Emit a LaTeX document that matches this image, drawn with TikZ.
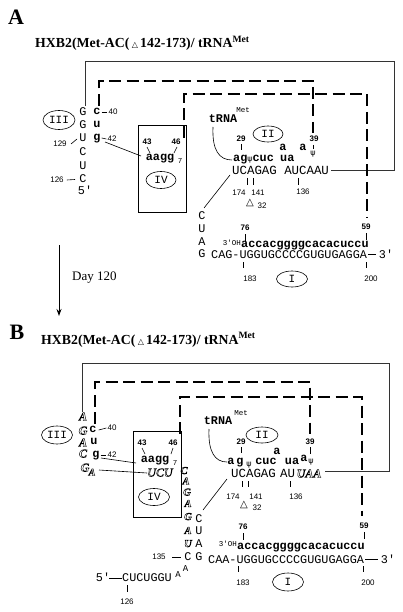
\documentclass[tikz,border=0pt]{standalone}
\usepackage{fontspec}
\setmainfont{Liberation Serif}
\newfontfamily\mono{Liberation Mono}
\newfontfamily\lsans{Liberation Sans}
\newfontfamily\dvs{DejaVu Sans}
\usetikzlibrary{shapes.geometric,arrows.meta,calc}
\newcommand{\hol}[1]{\special{pdf:literal direct 1 Tr 0.45 w}#1\special{pdf:literal direct 0 Tr}}
\newcommand{\tri}{{\dvs\mdseries\fontsize{8}{8}\selectfont △}}
\newcommand{\psis}{{\dvs\mdseries\fontsize{8}{8}\selectfont ψ}}
\begin{document}
\begin{tikzpicture}[x=1pt,y=-1pt,
  nt/.style={font=\mono\fontsize{11.8}{12}\selectfont, inner sep=0pt, text height=7pt, text depth=0pt},
  wnt/.style={font=\mono\fontsize{12.4}{12}\selectfont, inner sep=0pt, text height=7pt, text depth=0pt},
  bnt/.style={font=\mono\bfseries\fontsize{11.8}{12}\selectfont, inner sep=0pt, text height=5.5pt, text depth=0pt},
  mut/.style={font=\rmfamily\bfseries\itshape\fontsize{12}{12}\selectfont, text=black, inner sep=0pt, text height=7pt, text depth=0pt},
  mutc/.style={mut, font=\rmfamily\bfseries\itshape\fontsize{10.5}{10.5}\selectfont, text height=6pt},
  lab/.style={font=\lsans\fontsize{8}{8}\selectfont, inner sep=0pt, text height=5.8pt, text depth=0pt},
  blab/.style={font=\lsans\bfseries\fontsize{8}{8}\selectfont, inner sep=0pt, text height=5.8pt, text depth=0pt},
  smt/.style={font=\mono\fontsize{7.5}{7.5}\selectfont, inner sep=0pt},
  trisym/.style={font=\dvs\bfseries\fontsize{10}{10}\selectfont, inner sep=0pt},
  rom/.style={ellipse, draw, line width=0.6pt, inner sep=0pt, minimum width=31pt, minimum height=17pt, font=\mono\fontsize{11}{11}\selectfont},
  panel/.style={font=\rmfamily\bfseries\fontsize{22}{22}\selectfont, inner sep=0pt},
  ttl/.style={font=\rmfamily\bfseries\fontsize{13.8}{13.8}\selectfont, inner sep=0pt},
  ivbox/.style={draw, line width=0.7pt, minimum width=48pt, inner sep=0pt},
  sol/.style={line width=0.7pt, draw=black!80},
  dsh/.style={line width=1.2pt, dash pattern=on 12pt off 5.5pt},
  tk/.style={line width=0.7pt},
  ln/.style={line width=0.6pt}
]
\useasboundingbox (0,0) rectangle (402,612);

%%%%%%%%%%%%%%%%%%%% PANEL A %%%%%%%%%%%%%%%%%%%%
\node[panel] (pA) at (16,17) {A};
\node[ttl, anchor=base west] (tA) at (35,47.5) {HXB2(Met-AC(\,\tri\,142-173)/ tRNA\textsuperscript{Met}};

% stem strands
\node[nt] (AG1) at (83,112) {G};
\node[nt] (AG2) at (83,125) {G};
\node[nt] (AU1) at (83,138) {U};
\node[nt] (AC1) at (83,152) {C};
\node[nt] (AU2) at (83,166) {U};
\node[nt] (AC2) at (83,179) {C};
\node[nt] (A5p) at (85,191) {5'};
\node[bnt] (Ac40) at (97,112) {c};
\node[bnt] (Au41) at (97,125) {u};
\node[bnt] (Ag42) at (97,138) {g};
\node[lab] (A40) at (113,112) {40};
\node[lab] (A42) at (112,139) {42};
\draw[ln] ([xshift=1pt]Ac40.east) -- ([xshift=-1pt]A40.west);
\draw[ln] ([xshift=1pt]Ag42.east) -- ([xshift=-1pt]A42.west);
\node[lab] (A129) at (60,144) {129};
\draw[ln] (71,144) -- (77,139);
\node[lab] (A126) at (57,180) {126};
\draw[ln] (A126.east) ++(3,0) -- (75,179.5);
\node[rom, minimum width=32pt, minimum height=19pt] (AIII) at (59,120) {III};

% long-range brackets
\coordinate (AsolS) at (85,106);
\coordinate (AsolE) at (331,170);
\draw[sol] (AsolS) |- (394,61) |- (AsolE);
\coordinate (AmidS) at (99,106);
\coordinate (AmidE) at (313,133);
\draw[dsh] (AmidS) |- (313,81) -- (AmidE);
\coordinate (AinS) at (184,138);
\coordinate (AinE) at (367,218);
\draw[dsh] (AinS) |- (367,94) -- (AinE);

% box IV
\node[ivbox, minimum height=87pt] (AIVbox) at (162,168.5) {};
\node[blab] (A43) at (147,142) {43};
\node[blab] (A46) at (176,142) {46};
\draw[ln] (147,147) -- (150,153);
\draw[ln] (177,147) -- (174,153);
\node[bnt] (Aaagg) at (160,158) {aagg};
\node[smt] (A7) at (180,161) {7};
\node[rom, minimum width=30pt, minimum height=17pt] (AIV) at (161,180) {IV};
\coordinate (AlnE) at (141,156);
\draw[ln] (105,142) -- (AlnE);

% tRNA anticodon region
\node[bnt, text height=7pt] (AtRNA) at (223,119) {tRNA};
\node[smt] (AMet) at (243,110) {Met};
\draw[ln] (213,127) .. controls (212,150) and (219,160) .. (232,160);
\node[rom, minimum width=30pt, minimum height=16pt] (AII) at (268,134) {II};
\node[blab] (A29) at (241,139) {29};
\draw[tk] (241,144) -- (241,150);
\node[blab] (A39) at (314,139) {39};
\draw[tk] (313,145) -- (313,149);
\node[bnt] (Apsi) at (313,153) {\psis};
\node[bnt] (Aa1) at (283,148) {a};
\node[bnt] (Aa2) at (303,148) {a};
\node[bnt, anchor=west] (Atop1) at (233,159) {ag\psis cuc};
\node[bnt, anchor=west] (Atop2) at (280,159) {ua};
\node[wnt, anchor=west] (Aseq) at (232,171) {UCAGAG AUCAAU};
\draw[tk] (247,178) -- (247,185);
\draw[tk] (253,178) -- (253,185);
\draw[tk] (298,178) -- (298,185);
\node[lab] (A174) at (239,193) {174};
\node[lab] (A141) at (258,193) {141};
\node[lab] (A136) at (303,192) {136};
\node[trisym] (Atri) at (250,203) {△};
\node[lab] (A32) at (262,206) {32};

% primer binding site
\node[nt] (AC3) at (202,216) {C};
\node[nt] (AU3) at (202,229) {U};
\node[nt] (AA3) at (202,242) {A};
\node[nt] (AG3) at (202,254) {G};
\draw[ln] (230,175) -- (204,208);
\node[blab] (A76) at (245,228) {76};
\draw[tk] (245,234) -- (245,241);
\node[blab] (A59) at (366,227) {59};
\draw[tk] (366,233) -- (366,240);
\node[smt, anchor=east] (A3OH) at (241,243) {3'OH};
\node[bnt, anchor=west] (Aacc) at (241,244.5) {accacggggcacacuccu};
\node[nt, anchor=west] (Apbs) at (211,254.5) {CAG-UGGUGCCCCGUGUGAGGA};
\node[nt] (A3p) at (386,254.5) {3'};
\draw[ln] ([xshift=1pt]Apbs.east) -- ([xshift=-3pt]A3p.west);
\draw[tk] (243,262) -- (243,268);
\draw[tk] (366,262) -- (366,268);
\node[lab] (A183) at (250,279) {183};
\node[lab] (A200) at (371,279) {200};
\node[rom, minimum width=31pt, minimum height=16pt] (AI) at (292,279) {I};

%%%%%%%%%%%%%%%%%%%% ARROW %%%%%%%%%%%%%%%%%%%%
\coordinate (arS) at (59,245);
\coordinate (arE) at (59,316);
\draw[line width=0.9pt, -{Stealth[length=7pt,width=5pt]}] (arS) -- (arE);
\node[font=\rmfamily\fontsize{13}{13}\selectfont, anchor=west, inner sep=0pt] (day) at (72,278) {Day 120};

%%%%%%%%%%%%%%%%%%%% PANEL B %%%%%%%%%%%%%%%%%%%%
\node[panel] (pB) at (17,332) {B};
\node[ttl, anchor=base west] (tB) at (41,344) {HXB2(Met-AC(\,\tri\,142-173)/ tRNA\textsuperscript{Met}};

\node[mut] (BA1) at (83,417) {\hol{A}};
\node[mut] (BG1) at (83,431) {\hol{G}};
\node[mut] (BA2) at (83,443) {\hol{A}};
\node[mut] (BC1) at (83,454) {\hol{C}};
\node[mut] (BG2) at (85,468) {\hol{G}};
\node[mut, font=\rmfamily\bfseries\itshape\fontsize{10}{10}\selectfont] (BA3) at (92,472) {\hol{A}};
\node[bnt] (Bc40) at (93,430) {c};
\node[bnt] (Bu41) at (94,442) {u};
\node[bnt] (Bg42) at (96,455) {g};
\node[lab] (B40) at (112,428) {40};
\node[lab] (B42) at (112,455) {42};
\draw[ln] ([xshift=2pt]Bc40.east) -- ([xshift=-1pt]B40.west);
\draw[ln] ([xshift=1pt]Bg42.east) -- ([xshift=-1pt]B42.west);
\node[rom, minimum width=31pt, minimum height=18pt] (BIII) at (57,435) {III};

\coordinate (BsolS) at (82,412);
\coordinate (BsolE) at (325,471);
\draw[sol] (BsolS) |- (389,363) |- (BsolE);
\coordinate (BmidS) at (95,424);
\coordinate (BmidE) at (310,434);
\draw[dsh] (BmidS) |- (310,382) -- (BmidE);
\coordinate (BinS) at (180,434);
\coordinate (BinE) at (362,516);
\draw[dsh] (BinS) |- (362,397) -- (BinE);

\node[ivbox, minimum height=86pt] (BIVbox) at (157,474) {};
\node[blab] (B43) at (142,443) {43};
\node[blab] (B46) at (173,443) {46};
\draw[ln] (142,448) -- (145,454);
\draw[ln] (173,448) -- (171,454);
\node[bnt] (Baagg) at (155,460) {aagg};
\node[smt] (B7) at (175,463) {7};
\node[mut, font=\rmfamily\itshape\fontsize{12}{12}\selectfont] (BUCU) at (160,473) {\hol{UCU}};
\node[rom, minimum width=31pt, minimum height=17pt] (BIV) at (154,497) {IV};
\coordinate (Bl1E) at (136,463);
\draw[ln] (101,458) -- (Bl1E);
\draw[ln] (99,470) -- (BUCU.west);

% mutated column
\node[mutc] (Bm1) at (184,471) {\hol{C}};
\node[mutc] (Bm2) at (186,481.5) {\hol{A}};
\node[mutc] (Bm3) at (187,492.5) {\hol{G}};
\node[mutc] (Bm4) at (188,504) {\hol{A}};
\node[mutc] (Bm5) at (188,517) {\hol{G}};
\node[mutc] (Bm6) at (188,531) {\hol{A}};
\node[mutc] (Bm7) at (188,544) {\hol{U}};
\node[nt] (BC135) at (188,557) {C};
\node[lab] (B135) at (159,557) {135};
\draw[ln] (172,557) -- (181,557);
\node[nt] (Br1) at (199,519) {C};
\node[nt] (Br2) at (199,531) {U};
\node[nt] (Br3) at (199,544) {A};
\node[nt] (Br4) at (199,557) {G};
\node[nt, font=\mono\fontsize{9}{9}\selectfont, text height=6pt] (BAa) at (178,574) {A};
\node[nt, font=\mono\fontsize{9}{9}\selectfont, text height=6pt] (BAb) at (185.5,568) {A};
\node[nt] (B5p) at (103,578) {5'};
\node[nt, anchor=west] (Bcucu) at (122,578) {CUCUGGU};
\draw[ln] (109,578) -- (Bcucu.west);
\draw[tk] (127,585) -- (127,592);
\node[lab] (B126) at (127,602) {126};

% tRNA region B
\node[bnt, text height=7pt] (BtRNA) at (218,421) {tRNA};
\node[smt] (BMet) at (241,413) {Met};
\draw[ln] (209,429) .. controls (208,452) and (215,462) .. (227,462);
\node[rom, minimum width=32pt, minimum height=16pt] (BII) at (262,435) {II};
\node[blab] (B29) at (241,442) {29};
\draw[tk] (241,447) -- (241,453);
\node[blab] (B39) at (310,442) {39};
\draw[tk] (310,447) -- (310,454);
\node[bnt] (Ba1) at (277,452) {a};
\node[bnt] (Ba) at (231,462) {a};
\node[bnt] (Bg) at (240,462) {g};
\node[bnt] (Bpsi1) at (249,464) {\psis};
\node[bnt] (Bcuc) at (266,462) {cuc};
\node[bnt] (Bua) at (292,462) {ua};
\node[bnt] (Ba2) at (304,459) {a};
\node[bnt] (Bpsi2) at (311,461) {\psis};
\node[wnt, anchor=west] (Bseq1) at (231,474) {UCAGAG};
\node[wnt, anchor=west] (Bseq2) at (280,474) {AU};
\node[mut] (BUAA) at (309,474) {\hol{UAA}};
\draw[tk] (242,481) -- (242,487);
\draw[tk] (248,481) -- (248,487);
\draw[tk] (290,481) -- (290,487);
\node[lab] (B174) at (233,497) {174};
\node[lab] (B141) at (256,497) {141};
\node[lab] (B136) at (296,497) {136};
\node[trisym] (Btri) at (244,505) {△};
\node[lab] (B32) at (257,508) {32};
\draw[ln] (227,479) -- (203,510);

% PBS B
\node[blab] (B76) at (243,527) {76};
\draw[tk] (243,533) -- (243,540);
\node[blab] (B59) at (364,526) {59};
\draw[tk] (364,532) -- (364,539);
\node[smt, anchor=east] (B3OH) at (237,544) {3'OH};
\node[bnt, anchor=west] (Bacc) at (237,546.5) {accacggggcacacuccu};
\node[nt, anchor=west] (Bpbs) at (208,559.5) {CAA-UGGUGCCCCGUGUGAGGA};
\node[nt] (B3p) at (388,559.5) {3'};
\draw[ln] ([xshift=1pt]Bpbs.east) -- ([xshift=-3pt]B3p.west);
\draw[tk] (238,566) -- (238,572);
\draw[tk] (363,566) -- (363,572);
\node[lab] (B183) at (243,583) {183};
\node[lab] (B200) at (368,583) {200};
\node[rom, minimum width=31pt, minimum height=18pt] (BI) at (288,582) {I};
\end{tikzpicture}
\end{document}
